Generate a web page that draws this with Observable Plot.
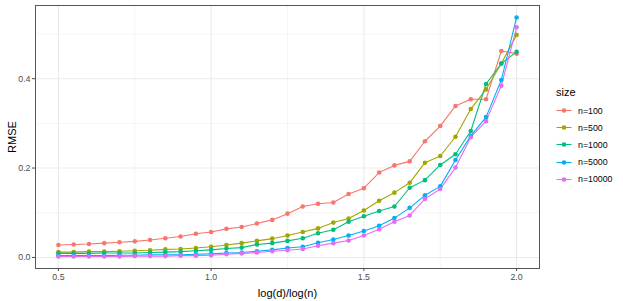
<!DOCTYPE html>
<html>
<head>
<meta charset="utf-8">
<script src="https://cdn.jsdelivr.net/npm/d3@7"></script>
<script src="https://cdn.jsdelivr.net/npm/@observablehq/plot@0.6"></script>
<style>
  body { margin: 0; background: white; font-family: "Liberation Sans", Arial, sans-serif; }
  #wrap { position: relative; width: 623px; height: 301px; }
  #legend { position: absolute; left: 556px; top: 86px; font-family: "Liberation Sans", Arial, sans-serif; }
  #legend .title { font-size: 11px; height: 16px; line-height: 13px; color: #000; }
  #legend .item { height: 17.2px; display: flex; align-items: center; font-size: 8.8px; color: #000; }
  #legend .item svg { margin-right: 6px; }
  g[aria-label="x-axis label"], g[aria-label="y-axis label"] { font-size: 11px; fill: #000; }
</style>
</head>
<body>
<div id="wrap"><div id="chart"></div><div id="legend"></div></div>
<script>
const xs = [0.5, 0.55, 0.6, 0.65, 0.7, 0.75, 0.8, 0.85, 0.9, 0.95, 1.0, 1.05, 1.1, 1.15, 1.2, 1.25, 1.3, 1.35, 1.4, 1.45, 1.5, 1.55, 1.6, 1.65, 1.7, 1.75, 1.8, 1.85, 1.9, 1.95, 2.0];
const sizes = ["n=100", "n=500", "n=1000", "n=5000", "n=10000"];
const rmse100 = [0.028, 0.029, 0.030, 0.032, 0.034, 0.036, 0.039, 0.043, 0.047, 0.053, 0.057, 0.064, 0.068, 0.076, 0.084, 0.098, 0.114, 0.120, 0.123, 0.142, 0.155, 0.190, 0.206, 0.215, 0.260, 0.294, 0.339, 0.354, 0.354, 0.462, 0.456];
const rmse500 = [0.012, 0.012, 0.013, 0.013, 0.014, 0.015, 0.016, 0.018, 0.019, 0.021, 0.024, 0.028, 0.032, 0.037, 0.042, 0.049, 0.057, 0.065, 0.078, 0.087, 0.105, 0.127, 0.145, 0.167, 0.212, 0.227, 0.270, 0.332, 0.376, 0.434, 0.498];
const rmse1000 = [0.009, 0.009, 0.009, 0.010, 0.010, 0.010, 0.011, 0.012, 0.013, 0.015, 0.017, 0.020, 0.022, 0.029, 0.032, 0.037, 0.043, 0.054, 0.062, 0.080, 0.092, 0.104, 0.114, 0.156, 0.173, 0.207, 0.231, 0.283, 0.388, 0.434, 0.460];
const rmse5000 = [0.004, 0.004, 0.004, 0.004, 0.005, 0.005, 0.006, 0.006, 0.006, 0.007, 0.008, 0.010, 0.011, 0.014, 0.017, 0.021, 0.024, 0.033, 0.040, 0.049, 0.059, 0.071, 0.088, 0.111, 0.139, 0.159, 0.218, 0.272, 0.314, 0.397, 0.537];
const rmse10000 = [0.002, 0.002, 0.002, 0.002, 0.002, 0.003, 0.003, 0.003, 0.004, 0.004, 0.005, 0.007, 0.009, 0.011, 0.014, 0.016, 0.019, 0.026, 0.032, 0.038, 0.049, 0.063, 0.080, 0.094, 0.131, 0.153, 0.201, 0.269, 0.305, 0.384, 0.515];
const colors = ["#F8766D", "#A3A500", "#00BF7D", "#00B0F6", "#E76BF3"];
const xTicks = [0.5, 1.0, 1.5, 2.0];
const xMinor = [0.75, 1.25, 1.75];
const yTicks = [0.0, 0.2, 0.4];
const yMinor = [0.1, 0.3, 0.5];

const series = [rmse100, rmse500, rmse1000, rmse5000, rmse10000];
const data = sizes.flatMap((s, i) => series[i].map((v, j) => ({x: xs[j], rmse: v, size: s})));

function expand(ext) { const r = ext[1] - ext[0]; return [ext[0] - 0.05 * r, ext[1] + 0.05 * r]; }
const xDom = expand(d3.extent(xs));
const yDom = expand(d3.extent(data, d => d.rmse));

const chart = Plot.plot({
  width: 623,
  height: 301,
  marginLeft: 35,
  marginRight: 84,
  marginTop: 5,
  marginBottom: 33,
  style: {fontFamily: "Liberation Sans, Arial, sans-serif", background: "white"},
  x: {domain: xDom},
  y: {domain: yDom},
  color: {domain: sizes, range: colors},
  marks: [
    Plot.ruleX(xMinor, {stroke: "#ebebeb", strokeWidth: 0.55}),
    Plot.ruleY(yMinor, {stroke: "#ebebeb", strokeWidth: 0.55}),
    Plot.ruleX(xTicks, {stroke: "#ebebeb", strokeWidth: 1.1}),
    Plot.ruleY(yTicks, {stroke: "#ebebeb", strokeWidth: 1.1}),
    Plot.line(data, {x: "x", y: "rmse", stroke: "size", strokeWidth: 1.1}),
    Plot.dot(data, {x: "x", y: "rmse", fill: "size", r: 2.3}),
    Plot.frame({stroke: "#555555", strokeWidth: 1}),
    Plot.axisX({ticks: xTicks, tickFormat: d3.format(".1f"), tickSize: 3, tickPadding: 2, fontSize: 8.8, color: "#4d4d4d",
      label: "log(d)/log(n)", labelAnchor: "center", labelArrow: "none", labelOffset: 28}),
    Plot.axisY({ticks: yTicks, tickFormat: d3.format(".1f"), tickSize: 3, tickPadding: 2, fontSize: 8.8, color: "#4d4d4d",
      label: "RMSE", labelAnchor: "center", labelArrow: "none", labelOffset: 27})
  ]
});
document.getElementById("chart").appendChild(chart);

const legend = document.getElementById("legend");
const t = document.createElement("div");
t.className = "title";
t.textContent = "size";
legend.appendChild(t);
sizes.forEach((s, i) => {
  const item = document.createElement("div");
  item.className = "item";
  item.innerHTML = `<svg width="16" height="17"><line x1="0.5" x2="15.5" y1="8.5" y2="8.5" stroke="${colors[i]}" stroke-width="1.1"/><circle cx="8" cy="8.5" r="2.3" fill="${colors[i]}"/></svg><span>${s}</span>`;
  legend.appendChild(item);
});
</script>
</body>
</html>
